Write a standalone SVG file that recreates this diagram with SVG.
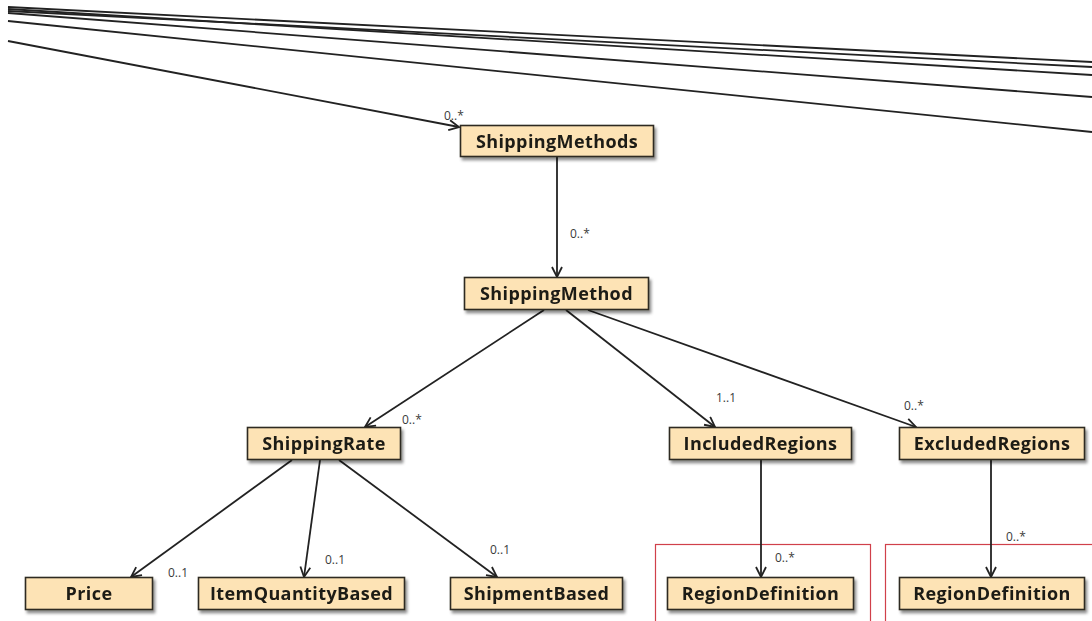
<svg xmlns="http://www.w3.org/2000/svg" width="1092" height="621" viewBox="0 0 1092 621">
  <style>
    .box rect { fill: #fde3b5; stroke: #2d2a22; stroke-width: 1.6; }
    .box text { font-family: "Open Sans", "Noto Sans", sans-serif; font-weight: bold; font-size: 18px; letter-spacing: 0.4px; fill: #1d1a14; text-anchor: middle; }
    .edge { stroke: #222; stroke-width: 1.8; fill: none; }
    .mult { font-family: "Open Sans", "Noto Sans", sans-serif; font-size: 12px; fill: #3a3a3a; }
    .region { fill: none; stroke: #d0404a; stroke-width: 1.2; }
  </style>
  <defs>
    <marker id="arrow" viewBox="0 0 12 12" refX="11" refY="6" markerWidth="12" markerHeight="12" markerUnits="userSpaceOnUse" orient="auto">
      <path d="M1,1 L11,6 L1,11" fill="none" stroke="#222" stroke-width="1.8"/>
    </marker>
    <filter id="shadow" x="-10%" y="-20%" width="125%" height="160%">
      <feDropShadow dx="2" dy="3" stdDeviation="1.8" flood-color="#000" flood-opacity="0.45"/>
    </filter>
  </defs>

  <rect width="1092" height="621" fill="#fff"/>

  <!-- region frames around the definitions -->
  <g id="region-frames">
    <rect class="region" x="655.5" y="544.5" width="215" height="90"/>
    <rect class="region" x="885.5" y="544.5" width="220" height="90"/>
  </g>

  <!-- associations -->
  <g id="connectors">
    <!-- long associations crossing the top of the view -->
    <line class="edge" x1="8" y1="7" x2="1092" y2="62"/>
    <line class="edge" x1="8" y1="9" x2="1092" y2="75"/>
    <line class="edge" x1="8" y1="11" x2="1092" y2="67"/>
    <line class="edge" x1="8" y1="13" x2="1092" y2="97"/>
    <line class="edge" x1="8" y1="21" x2="1092" y2="132"/>
    <line class="edge" x1="8" y1="41" x2="459" y2="127" marker-end="url(#arrow)"/>

    <line class="edge" x1="557" y1="157" x2="557" y2="277" marker-end="url(#arrow)"/>

    <line class="edge" x1="544" y1="310" x2="365" y2="427" marker-end="url(#arrow)"/>
    <line class="edge" x1="566" y1="310" x2="715" y2="427" marker-end="url(#arrow)"/>
    <line class="edge" x1="588" y1="310" x2="916" y2="427" marker-end="url(#arrow)"/>

    <line class="edge" x1="292" y1="460" x2="131" y2="577" marker-end="url(#arrow)"/>
    <line class="edge" x1="320" y1="460" x2="304" y2="577" marker-end="url(#arrow)"/>
    <line class="edge" x1="339" y1="460" x2="497" y2="577" marker-end="url(#arrow)"/>

    <line class="edge" x1="761" y1="460" x2="761" y2="577" marker-end="url(#arrow)"/>
    <line class="edge" x1="991" y1="460" x2="991" y2="577" marker-end="url(#arrow)"/>
  </g>

  <!-- multiplicities -->
  <g id="multiplicities">
    <text class="mult" x="444" y="120">0..*</text>
    <text class="mult" x="570" y="238">0..*</text>
    <text class="mult" x="402" y="424">0..*</text>
    <text class="mult" x="716" y="402">1..1</text>
    <text class="mult" x="904" y="410">0..*</text>
    <text class="mult" x="168" y="577">0..1</text>
    <text class="mult" x="325" y="564">0..1</text>
    <text class="mult" x="490" y="554">0..1</text>
    <text class="mult" x="775" y="562">0..*</text>
    <text class="mult" x="1006" y="541">0..*</text>
  </g>

  <g id="ShippingMethods" class="box" filter="url(#shadow)">
    <rect x="460.5" y="125.5" width="193" height="31"/>
    <text x="557" y="147.5">ShippingMethods</text>
  </g>
  <g id="ShippingMethod" class="box" filter="url(#shadow)">
    <rect x="464.5" y="277.5" width="184" height="32"/>
    <text x="556.5" y="300">ShippingMethod</text>
  </g>
  <g id="ShippingRate" class="box" filter="url(#shadow)">
    <rect x="247.5" y="427.5" width="153" height="32"/>
    <text x="324" y="450">ShippingRate</text>
  </g>
  <g id="IncludedRegions" class="box" filter="url(#shadow)">
    <rect x="669.5" y="427.5" width="182" height="32"/>
    <text x="760.5" y="450">IncludedRegions</text>
  </g>
  <g id="ExcludedRegions" class="box" filter="url(#shadow)">
    <rect x="899.5" y="427.5" width="185" height="32"/>
    <text x="992" y="450">ExcludedRegions</text>
  </g>
  <g id="Price" class="box" filter="url(#shadow)">
    <rect x="25.5" y="577.5" width="127" height="32"/>
    <text x="89" y="600">Price</text>
  </g>
  <g id="ItemQuantityBased" class="box" filter="url(#shadow)">
    <rect x="198.5" y="577.5" width="206" height="32"/>
    <text x="301.5" y="600">ItemQuantityBased</text>
  </g>
  <g id="ShipmentBased" class="box" filter="url(#shadow)">
    <rect x="450.5" y="577.5" width="172" height="32"/>
    <text x="536.5" y="600">ShipmentBased</text>
  </g>
  <g id="RegionDefinition-included" class="box" filter="url(#shadow)">
    <rect x="667.5" y="577.5" width="186" height="32"/>
    <text x="760.5" y="600">RegionDefinition</text>
  </g>
  <g id="RegionDefinition-excluded" class="box" filter="url(#shadow)">
    <rect x="899.5" y="577.5" width="185" height="32"/>
    <text x="992" y="600">RegionDefinition</text>
  </g>
</svg>
